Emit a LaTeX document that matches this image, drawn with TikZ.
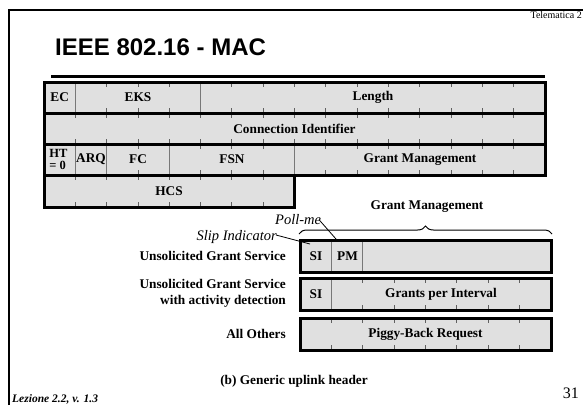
\documentclass[tikz,border=0pt]{standalone}
\usepackage{fontspec}
\setmainfont{Liberation Serif}
\newfontfamily\arialfont{Liberation Sans}
\usetikzlibrary{decorations.pathreplacing}
\definecolor{cellgray}{RGB}{224,224,224}
\definecolor{divgray}{RGB}{120,120,120}
\begin{document}
\begin{tikzpicture}[x=1pt,y=-1pt,
  txt/.style={inner sep=0pt},
  lbl/.style={txt,font=\fontsize{13.3}{15}\selectfont\bfseries},
  itl/.style={txt,font=\fontsize{14.5}{16}\selectfont\itshape},
  cellborder/.style={draw=black,line width=3pt,line join=miter},
  divline/.style={draw=divgray,line width=0.9pt},
  tickline/.style={draw=divgray!80!black,line width=0.8pt},
  leader/.style={draw=black,line width=0.8pt}]
\useasboundingbox (0,0) rectangle (583,405);
% slide frame
\draw[line width=2.5pt] (9,405) -- (9,10) -- (583,10);
\node[txt,font=\fontsize{10}{11}\selectfont,anchor=base east] (tel) at (582,18) {Telematica 2};
\node[txt,font=\arialfont\bfseries\fontsize{24}{28}\selectfont,anchor=base west] (title) at (55,55) {IEEE 802.16 - MAC};
\draw[line width=3.4pt] (51,76.5) -- (545,76.5);
% main table
\def\xa{44}\def\w{31.3125}
\fill[cellgray] (44,82) rectangle (545,175);
\fill[cellgray] (44,175) rectangle (294.5,207);
% row 1 ticks and dividers
\foreach \k in {2,3,4,6,7,8,9,10,11,12,13,14,15}{
  \draw[tickline] ({\xa+\k*\w},82) -- ++(0,5);
  \draw[tickline] ({\xa+\k*\w},113) -- ++(0,-5);}
\foreach \k in {1,5}{\draw[divline] ({\xa+\k*\w},82) -- ({\xa+\k*\w},113);}
% row 2
\foreach \k in {1,...,15}{
  \draw[tickline] ({\xa+\k*\w},113) -- ++(0,5);
  \draw[tickline] ({\xa+\k*\w},144) -- ++(0,-5);}
% row 3
\foreach \k in {3,5,6,7,9,10,11,12,13,14,15}{
  \draw[tickline] ({\xa+\k*\w},144) -- ++(0,5);
  \draw[tickline] ({\xa+\k*\w},175) -- ++(0,-5);}
\foreach \k in {1,2,4,8}{\draw[divline] ({\xa+\k*\w},144) -- ({\xa+\k*\w},175);}
% row 4
\foreach \k in {1,...,7}{
  \draw[tickline] ({\xa+\k*\w},175) -- ++(0,5);
  \draw[tickline] ({\xa+\k*\w},207) -- ++(0,-5);}
% borders
\draw[cellborder] (44,82) rectangle (545,113);
\draw[cellborder] (44,113) rectangle (545,144);
\draw[cellborder] (44,144) rectangle (545,175);
\draw[cellborder] (44,175) rectangle (294.5,207);
% table texts
\node[lbl] (ec) at (59.7,97.5) {EC};
\node[lbl] (eks) at (138,97.5) {EKS};
\node[lbl] (len) at (373,97.5) {Length};
\node[lbl] (cid) at (294.5,128.5) {Connection Identifier};
\node[lbl,align=left,font=\fontsize{12.5}{11.5}\selectfont\bfseries] (ht) at (58.5,159.5) {HT\\= 0};
\node[lbl] (arq) at (91,159.5) {ARQ};
\node[lbl] (fc) at (138,159.5) {FC};
\node[lbl] (fsn) at (232,159.5) {FSN};
\node[lbl] (gm) at (420,159.5) {Grant Management};
\node[lbl] (hcs) at (169,191) {HCS};
% lower part
\node[lbl] (gmtitle) at (427,207) {Grant Management};
\draw[decorate,decoration={brace,amplitude=8pt},line width=1pt] (299,234) -- (552,234);
\def\xb{300}\def\wb{31.375}
\fill[cellgray] (300,240) rectangle (551,272);
\fill[cellgray] (300,278) rectangle (551,310);
\fill[cellgray] (300,318) rectangle (551,350);
\foreach \k in {1,2}{\draw[divline] ({\xb+\k*\wb},240) -- ({\xb+\k*\wb},272);}
\draw[divline] ({\xb+\wb},278) -- ({\xb+\wb},310);
\foreach \k in {2,...,7}{
  \draw[tickline] ({\xb+\k*\wb},278) -- ++(0,5);
  \draw[tickline] ({\xb+\k*\wb},310) -- ++(0,-5);}
\foreach \k in {1,...,7}{
  \draw[tickline] ({\xb+\k*\wb},318) -- ++(0,5);
  \draw[tickline] ({\xb+\k*\wb},350) -- ++(0,-5);}
\draw[cellborder] (300,240) rectangle (551,272);
\draw[cellborder] (300,278) rectangle (551,310);
\draw[cellborder] (300,318) rectangle (551,350);
\node[lbl] (si1) at (316,256) {SI};
\node[lbl] (pm) at (347.5,256) {PM};
\node[lbl] (si2) at (316,294) {SI};
\node[lbl] (gpi) at (441,294) {Grants per Interval};
\node[lbl] (pbr) at (425.5,334) {Piggy-Back Request};
\node[lbl,anchor=east] (ugs) at (286,256) {Unsolicited Grant Service};
\node[lbl,anchor=east,align=right,font=\fontsize{13.3}{16}\selectfont\bfseries] (ugsad) at (286,293) {Unsolicited Grant Service\\with activity detection};
\node[lbl,anchor=east] (others) at (286,334) {All Others};
\node[itl,anchor=base east] (slip) at (277,240) {Slip Indicator};
\node[itl,anchor=base west] (poll) at (275,224) {Poll-me};
\coordinate (siend) at (310,244);
\coordinate (pmend) at (336,239);
\draw[leader] ([xshift=-1pt,yshift=5pt]slip.base east) -- (siend);
\draw[leader] ([xshift=-2pt,yshift=4pt]poll.base east) -- (pmend);
\node[lbl] (cap) at (294,381) {(b) Generic uplink header};
\node[txt,font=\bfseries\itshape\fontsize{11.5}{13}\selectfont,anchor=base west] (lez) at (12,402) {Lezione 2.2, v. 1.3};
\node[txt,font=\fontsize{16}{18}\selectfont,anchor=base east] (pg) at (579,398) {31};
\end{tikzpicture}
\end{document}
